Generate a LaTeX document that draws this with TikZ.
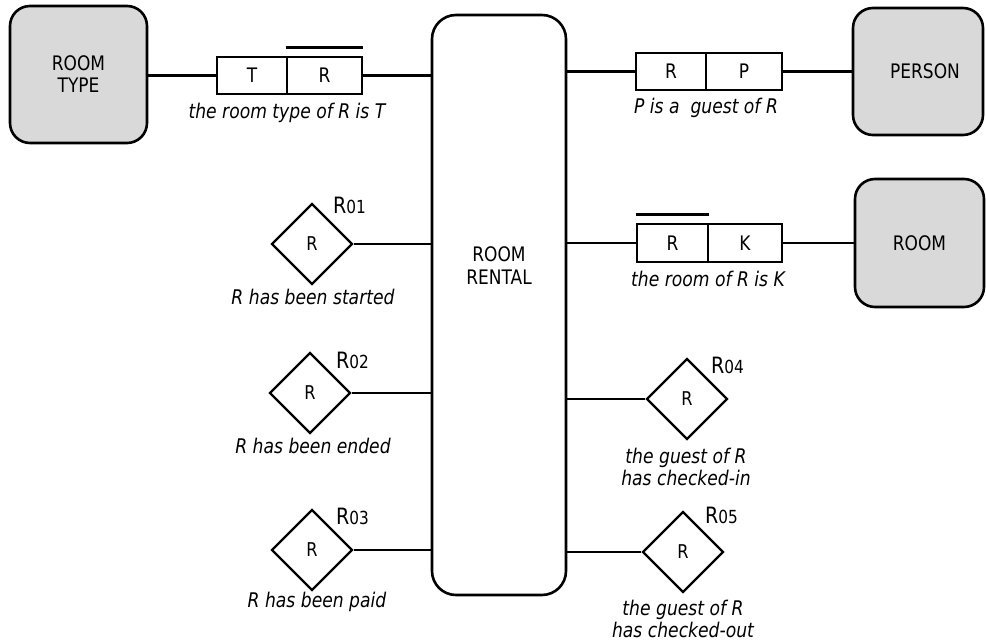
\documentclass[tikz,border=0pt]{standalone}
\usepackage{fontspec}
\setmainfont{DejaVu Sans}[FakeStretch=0.85]
\usetikzlibrary{shapes.geometric}
\definecolor{entgray}{RGB}{217,217,217}
\newcommand\txtsize[2]{\fontsize{#1}{#2}\selectfont}
\newcommand\rname[1]{{\txtsize{22.5}{26}R}{\txtsize{18}{21}#1}}

\begin{document}
\begin{tikzpicture}[x=1pt,y=-1pt,
  entity/.style={draw, line width=2.6pt, fill=entgray, rounded corners=20pt,
    inner sep=0pt, align=center, font=\txtsize{20}{22}},
  rentalbox/.style={draw, line width=2.6pt, rounded corners=24pt, inner sep=0pt},
  cell/.style={draw, line width=2.6pt, minimum height=37pt, inner sep=0pt,
    font=\txtsize{20}{22}},
  unary/.style={draw, diamond, aspect=1, minimum width=81pt, minimum height=81pt,
    inner sep=0pt, line width=2.3pt, font=\txtsize{19}{21}},
  conn/.style={line width=2.4pt},
  caption/.style={font=\itshape\txtsize{20.2}{22}, align=center, inner sep=0pt},
  rolename/.style={anchor=base west, inner sep=0pt}]

\useasboundingbox (0,0) rectangle (986,644);

% central entity
\node[rentalbox, minimum width=134pt, minimum height=580pt] (rental) at (499,305) {};
\node[font=\txtsize{20}{23}, align=center] (rentaltext) at (499,266) {ROOM\\RENTAL};

% other entities
\node[entity, minimum width=137pt, minimum height=137pt] (roomtype) at (78.5,74.5) {ROOM\\TYPE};
\node[entity, minimum width=130pt, minimum height=127pt] (person) at (918,71.5) {\hspace*{14pt}PERSON};
\node[entity, minimum width=129pt, minimum height=128pt] (room) at (919.5,243) {ROOM};

% binary fact types
\node[cell, minimum width=70pt] (rtT) at (252,75.5) {T};
\node[cell, minimum width=75pt] (rtR) at (324.5,75.5) {R};
\node[cell, minimum width=70pt] (gpR) at (671,71.5) {R};
\node[cell, minimum width=76pt] (gpP) at (744,71.5) {P};
\node[cell, minimum width=71pt, minimum height=38pt] (rkR) at (672.5,243) {R};
\node[cell, minimum width=74pt, minimum height=38pt] (rkK) at (745,243) {K};

% uniqueness bars
\draw[conn] ([yshift=8pt]rtR.north west) -- ([yshift=8pt]rtR.north east);
\draw[conn] ([yshift=8pt]rkR.north west) -- ([yshift=8pt]rkR.north east);

% unary fact types
\node[unary] (started) at (312,244) {R};
\node[unary] (ended) at (310,393) {R};
\node[unary] (paid) at (312,550) {R};
\node[unary] (checkin) at (687,399) {R};
\node[unary] (checkout) at (683,552) {R};

% role names
\node[rolename] (r01) at (333,214) {\rname{01}};
\node[rolename] (r02) at (336,369) {\rname{02}};
\node[rolename] (r03) at (336,524) {\rname{03}};
\node[rolename] (r04) at (711,374) {\rname{04}};
\node[rolename] (r05) at (705,523) {\rname{05}};

% connectors
\draw[conn] (roomtype.east |- rtT.west) -- (rtT.west);
\draw[conn] (rtR.east) -- (rtR.east -| rental.west);
\draw[conn] (rental.east |- gpR.west) -- (gpR.west);
\draw[conn] (gpP.east) -- (gpP.east -| person.west);
\draw[conn] (rental.east |- rkR.west) -- (rkR.west);
\draw[conn] (rkK.east) -- (rkK.east -| room.west);
\draw[conn] (started.east) -- (started.east -| rental.west);
\draw[conn] (ended.east) -- (ended.east -| rental.west);
\draw[conn] (paid.east) -- (paid.east -| rental.west);
\draw[conn] (checkin.west) -- (checkin.west -| rental.east);
\draw[conn] (checkout.west) -- (checkout.west -| rental.east);

% readings
\node[caption] (c-type) at (287,113) {the room type of R is T};
\node[caption] (c-guest) at (706,108) {P is a~~guest of R};
\node[caption] (c-room) at (708,279) {the room of R is K};
\node[caption] (c-start) at (313,297) {R has been started};
\node[caption] (c-end) at (313,446) {R has been ended};
\node[caption] (c-paid) at (317,602) {R has been paid};
\node[caption] (c-in) at (686,467) {the guest of R\\has checked-in};
\node[caption] (c-out) at (683,619) {the guest of R\\has checked-out};
\end{tikzpicture}
\end{document}
